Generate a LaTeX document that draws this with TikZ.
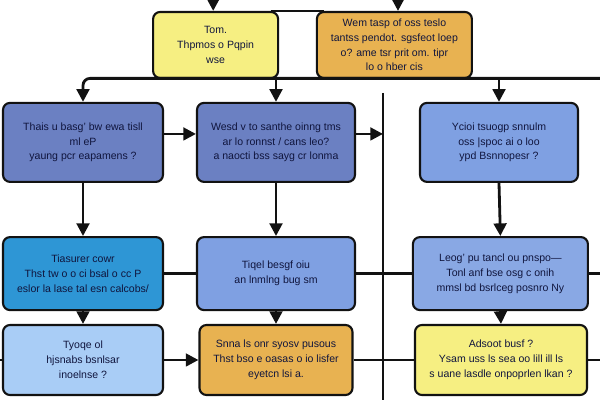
\documentclass[tikz,border=0pt]{standalone}
\usepackage{fontspec}
\setmainfont{Liberation Sans}
\usepackage{xcolor}
\definecolor{flowInk}{HTML}{10153D}
\definecolor{flowLine}{HTML}{121212}
\definecolor{flowYellow}{HTML}{F6EF82}
\definecolor{flowOrange}{HTML}{E8B251}
\definecolor{flowSlate}{HTML}{6B80C2}
\definecolor{flowPeri}{HTML}{7FA0E2}
\definecolor{flowCyan}{HTML}{2E96D5}
\definecolor{flowSky}{HTML}{A9CDF6}
\usepackage{tikz}
\usetikzlibrary{arrows.meta,calc,positioning}

\begin{document}
\begin{tikzpicture}[>={Triangle[length=9pt,width=9pt]},
  font=\fontsize{7.5}{10.5}\selectfont,
  flowbox/.style={draw=flowLine,line width=1.5pt,rounded corners=5pt,text=flowInk,align=center,inner sep=2pt},
  wire/.style={flowLine,line width=2pt},
  arr/.style={wire,->}]
  \path[use as bounding box] (0,0) rectangle (15,10);

  % top row
  \node[flowbox,fill=flowYellow,minimum width=3.125cm,minimum height=1.65cm] (top1) at (5.39,8.875) {Tom.\\Thpmos o Pqpin\\wse};
  \node[flowbox,fill=flowOrange,minimum width=3.875cm,minimum height=1.65cm] (top2) at (9.86,8.875) {Wem tasp of oss teslo\\tantss pendot. sgsfeot loep\\o? ame tsr prit om. tipr\\lo o hber cis};

  % second row
  \node[flowbox,fill=flowSlate,minimum width=4.0cm,minimum height=1.975cm] (q1) at (2.075,6.44) {Thais u basg' bw ewa tisll\\ml eP\\yaung pcr eapamens ?};
  \node[flowbox,fill=flowSlate,minimum width=3.95cm,minimum height=1.975cm] (q2) at (6.9,6.44) {Wesd v to santhe oinng tms\\ar lo ronnst / cans leo?\\a naocti bss sayg cr lonma};
  \node[flowbox,fill=flowPeri,minimum width=3.95cm,minimum height=1.975cm] (q3) at (12.475,6.44) {Ycioi tsuogp snnulm\\oss |spoc ai o loo\\ypd Bsnnopesr ?};

  % third row
  \node[flowbox,fill=flowCyan,minimum width=4.0cm,minimum height=1.825cm] (r1) at (2.075,3.16) {Tiasurer cowr\\Thst tw o o ci bsal o cc P\\eslor la lase tal esn calcobs/};
  \node[flowbox,fill=flowPeri,minimum width=3.95cm,minimum height=1.825cm] (r2) at (6.9,3.16) {Tiqel besgf oiu\\an lnmlng bug sm};
  \node[flowbox,fill=flowPeri!92!white,minimum width=4.375cm,minimum height=1.825cm] (r3) at (12.51,3.16) {Leog' pu tancl ou pnspo---\\Tonl anf bse osg c onih\\mmsl bd bsrlceg posnro Ny};

  % bottom row
  \node[flowbox,fill=flowSky,minimum width=4.0cm,minimum height=1.75cm] (s1) at (2.075,1.0) {Tyoqe ol\\hjsnabs bsnlsar\\inoelnse ?};
  \node[flowbox,fill=flowOrange,minimum width=3.825cm,minimum height=1.75cm] (s2) at (6.9,1.0) {Snna ls onr syosv pusous\\Thst bso e oasas o io lisfer\\eyetcn lsi a.};
  \node[flowbox,fill=flowYellow,minimum width=4.3cm,minimum height=1.75cm] (s3) at (12.525,1.0) {Adsoot busf ?\\Ysam uss ls sea oo lill ill ls\\s uane lasdle onpoprlen lkan ?};

  % free ends
  \coordinate (in1) at (5.33,10);
  \coordinate (in2) at (9.95,10);
  \coordinate (busL) at (2.075,8.04);
  \coordinate (busR) at (15,8.04);
  \coordinate (railT) at (9.575,7.68);
  \coordinate (railB) at (9.575,0);
  \coordinate (outR) at (15,3.16);
  \coordinate (outS) at (15,1.0);
  \coordinate (inS) at (0,1.0);

  \draw[arr] (in1) -- (in1 |- top1.north);
  \draw[arr] (in2) -- (in2 |- top2.north);
  \draw[wire] ([xshift=-6pt]top1.north east) -- ([xshift=6pt]top2.north west);
  \draw[wire] (railT) -- (railB);

  \draw[arr,rounded corners=5pt] (busR) -- (busL) -- (q1.north);
  \draw[arr] (q2.north |- busL) -- (q2.north);
  \draw[arr] (q3.north |- busL) -- (q3.north);
  \draw[arr] ([yshift=6pt]q1.east) -- ([yshift=6pt]q2.west);
  \draw[arr] ([yshift=6pt]q2.east) -- ([yshift=6pt]q2.east -| railT);

  \draw[arr] (q1.south) -- (r1.north);
  \draw[arr] (q2.south) -- (r2.north);
  \draw[arr] (q3.south) -- (r3.north);
  \draw[wire] (r1.east) -- (r2.west);
  \draw[wire] (r2.east) -- (r3.west);
  \draw[wire] (r3.east) -- (outR);

  \draw[arr] (r1.south) -- (s1.north);
  \draw[arr] (r2.south) -- (s2.north);
  \draw[arr] (r3.south) -- (s3.north);
  \draw[wire] (inS) -- (s1.west);
  \draw[arr] (s1.east) -- (s2.west);
  \draw[wire] (s2.east) -- (s3.west);
  \draw[wire] (s3.east) -- (outS);
\end{tikzpicture}
\end{document}
